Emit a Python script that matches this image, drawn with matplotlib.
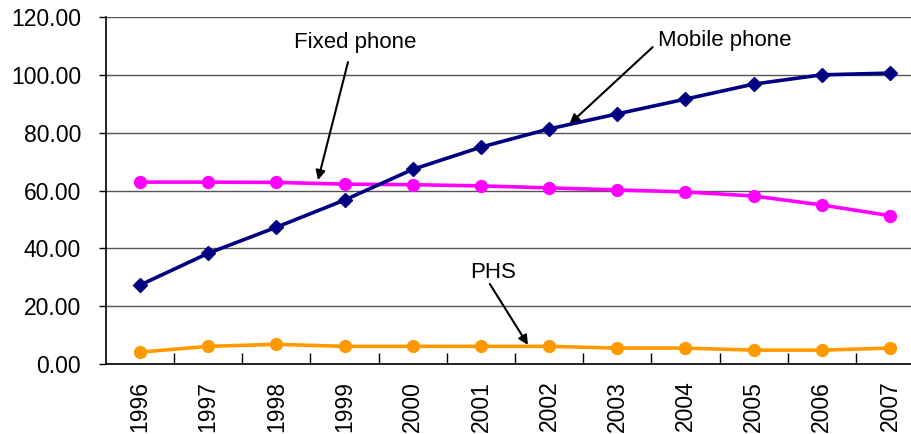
'''Telephone penetration rates 1996-2007'''
import numpy as np
import matplotlib.pyplot as plt

plt.rcParams['font.family'] = ['Liberation Sans', 'DejaVu Sans']

years = ['1996', '1997', '1998', '1999', '2000', '2001',
         '2002', '2003', '2004', '2005', '2006', '2007']
mobile = [27.3, 38.3, 47.3, 56.7, 67.3, 75.0, 81.3, 86.5, 91.6, 96.8, 100.0, 100.6]
fixed = [62.9, 62.9, 62.8, 62.2, 62.0, 61.6, 60.9, 60.2, 59.5, 58.1, 55.0, 51.3]
phs = [4.1, 6.1, 6.8, 6.1, 6.1, 6.1, 6.1, 5.5, 5.5, 4.8, 4.8, 5.5]

x = np.arange(len(years))

fig = plt.figure(figsize=(9.12, 4.34), dpi=100)
ax = fig.add_axes([0.1162, 0.1613, 0.897, 0.7995])

ax.plot(x, mobile, color='#000080', lw=2.6, marker='D', ms=7.5, zorder=4)
ax.plot(x, fixed, color='#FF00FF', lw=2.6, marker='o', ms=8.5, zorder=3)
ax.plot(x, phs, color='#FF9900', lw=2.6, marker='o', ms=8.5, zorder=3)

ax.set_xlim(-0.5, len(years) - 0.5)
ax.set_ylim(0, 120)
ax.set_yticks(np.arange(0, 121, 20))
ax.set_yticklabels([f'{v:.2f}' for v in range(0, 121, 20)], fontsize=16.5)
ax.yaxis.grid(True, color='#555555', lw=1)
ax.set_axisbelow(True)

# category labels at centres, tick marks on the boundaries
ax.set_xticks(x)
ax.set_xticklabels(years, rotation=90, fontsize=16.5)
ax.tick_params(axis='x', which='major', length=0, pad=12)
ax.set_xticks(np.arange(0.5, len(years) - 0.5), minor=True)
ax.tick_params(axis='x', which='minor', direction='in', length=8, width=1)
ax.tick_params(axis='y', direction='out', length=5, width=1, pad=13)

ax.spines[['top', 'right']].set_visible(False)
for s in ['left', 'bottom']:
    ax.spines[s].set_linewidth(1.2)

arrow = dict(arrowstyle='-|>', color='black', lw=1.5, mutation_scale=14, shrinkA=0, shrinkB=0)
ax.annotate('', xy=(2.61, 63.6), xytext=(3.05, 104.4), arrowprops=arrow)
ax.text(3.15, 111.2, 'Fixed phone', ha='center', va='center', fontsize=16)
ax.annotate('', xy=(6.30, 83.0), xytext=(7.52, 109.6), arrowprops=arrow)
ax.text(7.6, 112.0, 'Mobile phone', ha='left', va='center', fontsize=16)
ax.annotate('', xy=(5.69, 6.6), xytext=(5.13, 27.7), arrowprops=arrow)
ax.text(5.18, 31.8, 'PHS', ha='center', va='center', fontsize=16)

plt.savefig('out.png', dpi=100)
